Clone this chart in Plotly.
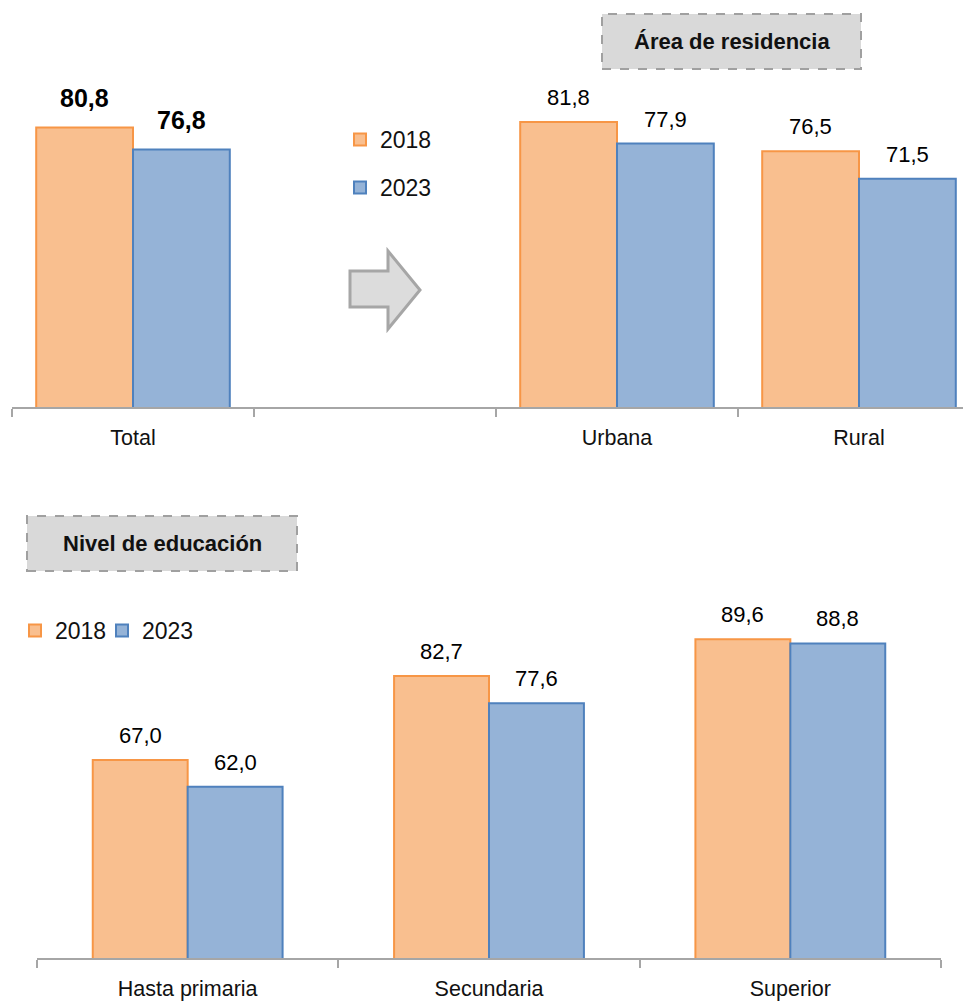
import plotly.graph_objects as go

# page is rendered with an 8px body margin: the figure is sized to fit the window
PAGE_W, PAGE_H = 971, 1001
OFF = 8
W, H = PAGE_W - OFF, PAGE_H - OFF

# ---- data ----
top_categories = ["Total", " ", "Urbana", "Rural"]
top_2018 = [80.8, None, 81.8, 76.5]
top_2023 = [76.8, None, 77.9, 71.5]

edu_categories = ["Hasta primaria", "Secundaria", "Superior"]
edu_2018 = [67.0, 82.7, 89.6]
edu_2023 = [62.0, 77.6, 88.8]

series_names = ["2018", "2023"]
bold_categories = ["Total"]

# ---- style ----
FONT = "Liberation Sans, Arial, sans-serif"
ORANGE_FILL, ORANGE_LINE = "#F9BF8F", "#F79646"
BLUE_FILL, BLUE_LINE = "#95B3D7", "#4F81BD"
fills = [ORANGE_FILL, BLUE_FILL]
lines = [ORANGE_LINE, BLUE_LINE]
AXIS_GRAY = "#A6A6A6"


def px_x(x):
    """page pixel x -> paper fraction"""
    return (x - OFF) / W


def px_y(y):
    """page pixel y -> paper fraction"""
    return 1 - (y - OFF) / H


fig = go.Figure()

top_w = 0.4
edu_w = 0.315

top_legends = ["legend", "legend2"]
edu_legends = ["legend3", "legend4"]

for i, (vals, name) in enumerate(zip([top_2018, top_2023], series_names)):
    fig.add_trace(go.Bar(
        x=top_categories, y=vals, name=name,
        width=top_w, offset=-top_w if i == 0 else 0,
        marker=dict(color=fills[i], line=dict(color=lines[i], width=2)),
        xaxis="x", yaxis="y", legend=top_legends[i],
    ))

for i, (vals, name) in enumerate(zip([edu_2018, edu_2023], series_names)):
    fig.add_trace(go.Bar(
        x=edu_categories, y=vals, name=name,
        width=edu_w, offset=-edu_w if i == 0 else 0,
        marker=dict(color=fills[i], line=dict(color=lines[i], width=2)),
        xaxis="x2", yaxis="y2", legend=edu_legends[i],
    ))

annotations = []
# value labels (top)
for i, vals in enumerate([top_2018, top_2023]):
    for j, (cat, v) in enumerate(zip(top_categories, vals)):
        if v is None:
            continue
        bold = cat in bold_categories
        xpos = j + (-top_w / 2 if i == 0 else top_w / 2)
        annotations.append(dict(
            x=xpos, y=v, xref="x", yref="y",
            text=(f"<b>{v:.1f}</b>" if bold else f"{v:.1f}").replace(".", ","),
            showarrow=False, yanchor="bottom", yshift=10 if not bold else 14,
            font=dict(family=FONT, size=25 if bold else 22, color="#000"),
        ))
# value labels (bottom)
for i, vals in enumerate([edu_2018, edu_2023]):
    for j, v in enumerate(vals):
        xpos = j + (-edu_w / 2 if i == 0 else edu_w / 2)
        annotations.append(dict(
            x=xpos, y=v, xref="x2", yref="y2",
            text=f"{v:.1f}".replace(".", ","),
            showarrow=False, yanchor="bottom", yshift=10,
            font=dict(family=FONT, size=22, color="#000"),
        ))

# section title boxes
shapes = []
for (x0, y0, x1, y1, label) in [(602, 14, 861, 69, "Área de residencia"),
                                 (27, 516, 297, 571, "Nivel de educación")]:
    shapes.append(dict(type="rect", xref="paper", yref="paper",
                       x0=px_x(x0), x1=px_x(x1), y0=px_y(y1), y1=px_y(y0),
                       fillcolor="#D9D9D9",
                       line=dict(color="#A0A0A0", width=2, dash="dash")))
    annotations.append(dict(x=px_x((x0 + x1) / 2), y=px_y((y0 + y1) / 2),
                            xref="paper", yref="paper", text=f"<b>{label}</b>",
                            showarrow=False, xanchor="center", yanchor="middle",
                            font=dict(family=FONT, size=22, color="#111")))

# block arrow
pts = [(350, 271), (388, 271), (388, 251), (420, 290), (388, 329), (388, 307), (350, 307)]
path = "M " + " L ".join(f"{px_x(x):.5f},{px_y(y):.5f}" for x, y in pts) + " Z"
shapes.append(dict(type="path", xref="paper", yref="paper", path=path,
                   fillcolor="#DCDCDC", line=dict(color="#A6A6A6", width=3)))

axis_common = dict(showline=True, linecolor=AXIS_GRAY, linewidth=1.5,
                   ticks="outside", tickson="boundaries", ticklen=8,
                   tickcolor=AXIS_GRAY, tickwidth=1.5, showgrid=False,
                   tickfont=dict(family=FONT, size=21.5, color="#111"),
                   ticklabelstandoff=10, fixedrange=True)

legend_common = dict(xanchor="left", yanchor="top", orientation="v",
                     bgcolor="rgba(0,0,0,0)", itemwidth=30,
                     font=dict(family=FONT, size=23, color="#111"))

fig.update_layout(
    width=W, height=H,
    margin=dict(l=0, r=0, t=0, b=0),
    paper_bgcolor="white", plot_bgcolor="white",
    barmode="group",
    separators=",.",
    annotations=annotations, shapes=shapes,
    xaxis=dict(domain=[px_x(12), 1.0], range=[-0.5, -0.5 + (PAGE_W - 12) / 242],
               anchor="y", type="category", **axis_common),
    yaxis=dict(domain=[px_y(407), px_y(22)], range=[30, 100], visible=False,
               anchor="x"),
    xaxis2=dict(domain=[px_x(37), px_x(941)], range=[-0.5, 2.5],
                anchor="y2", type="category", **axis_common),
    yaxis2=dict(domain=[px_y(958), px_y(583.5)], range=[30, 100], visible=False,
                anchor="x2"),
    legend=dict(x=px_x(340), y=px_y(118), **legend_common),
    legend2=dict(x=px_x(340), y=px_y(166), **legend_common),
    legend3=dict(x=px_x(15), y=px_y(609), **legend_common),
    legend4=dict(x=px_x(102), y=px_y(609), **legend_common),
    showlegend=True,
)

fig.write_html("out.html")
